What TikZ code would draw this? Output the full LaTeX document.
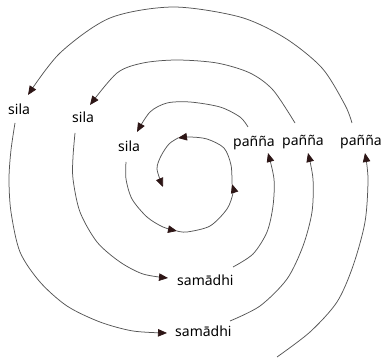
\documentclass[tikz,border=0pt]{standalone}
\usepackage{fontspec}
\setmainfont{Noto Sans}
\usetikzlibrary{arrows.meta}
\definecolor{linec}{RGB}{85,85,85}
\definecolor{tipc}{RGB}{45,22,22}
\tikzset{
  lbl/.style={anchor=base west, inner sep=0pt, font=\fontsize{14}{16}\selectfont},
  arc/.style={draw=linec, line width=0.75pt, -{Triangle[length=9pt,width=7.5pt,color=tipc]}}
}
\begin{document}
\begin{tikzpicture}[x=1pt,y=-1pt]
\useasboundingbox (0,0) rectangle (383,358);
% labels (positions = baseline left in pixel coords)
\node[lbl] (sila1) at (8,115) {sila};
\node[lbl] (sila2) at (72,123) {sila};
\node[lbl] (sila3) at (118,152) {sila};
\node[lbl] (pan1) at (340,146) {pañña};
\node[lbl] (pan2) at (282,146) {pañña};
\node[lbl] (pan3) at (233,147) {pañña};
\node[lbl] (sam1) at (175,336) {samādhi};
\node[lbl] (sam2) at (177,285) {samādhi};
\coordinate (start) at (277,357);
\coordinate (c1) at (177,231);
\coordinate (c2) at (232,184);
\coordinate (c3) at (178,138);
\coordinate (c4) at (163,187);
% outer loop
\draw[arc] plot[smooth] coordinates {(start) (310,332) (337,302) (353,266) (365,222) (368,179) ([shift={(25,7)}]pan1.base west)};
\draw[arc] plot[smooth] coordinates {([shift={(12,-23)}]pan1.base west) (345,105) (322,68) (285,38) (240,17) (173,7) (110,18) (60,53) ([shift={(20,-20)}]sila1.base west)};
\draw[arc] plot[smooth] coordinates {([shift={(7,8)}]sila1.base west) (11,150) (9,179) (11,212) (20,252) (40,282) (67,306) (100,322) (133,331) ([shift={(-8,-3)}]sam1.base west)};
% middle loop
\draw[arc] plot[smooth] coordinates {([shift={(55,-15)}]sam1.base west) (260,306) (287,279) (303,246) (312,212) (313,179) ([shift={(26,7)}]pan2.base west)};
\draw[arc] plot[smooth] coordinates {([shift={(13,-23)}]pan2.base west) (273,90) (250,73) (217,63) (177,60) (143,63) (117,73) ([shift={(18,-18)}]sila2.base west)};
\draw[arc] plot[smooth] coordinates {([shift={(3,10)}]sila2.base west) (73,157) (73,179) (80,212) (97,242) (120,262) (143,274) ([shift={(-9,-7)}]sam2.base west)};
% inner loop
\draw[arc] plot[smooth] coordinates {([shift={(56,-18)}]sam2.base west) (253,254) (267,232) (273,206) (274,179) ([shift={(35,6)}]pan3.base west)};
\draw[arc] plot[smooth] coordinates {([shift={(15,-20)}]pan3.base west) (240,117) (220,107) (190,102) (167,103) (150,112) ([shift={(19,-20)}]sila3.base west)};
\draw[arc] plot[smooth] coordinates {([shift={(8,10)}]sila3.base west) (126,179) (132,199) (147,217) (163,227) (c1)};
% central curl
\draw[arc] plot[smooth] coordinates {(c1) (187,232) (210,226) (227,209) (233,193) (c2)};
\draw[arc] plot[smooth] coordinates {(c2) (231,165) (224,148) (207,139) (190,137) (c3)};
\draw[arc] plot[smooth] coordinates {(c3) (169,144) (161,156) (157,169) (c4)};
\end{tikzpicture}
\end{document}
